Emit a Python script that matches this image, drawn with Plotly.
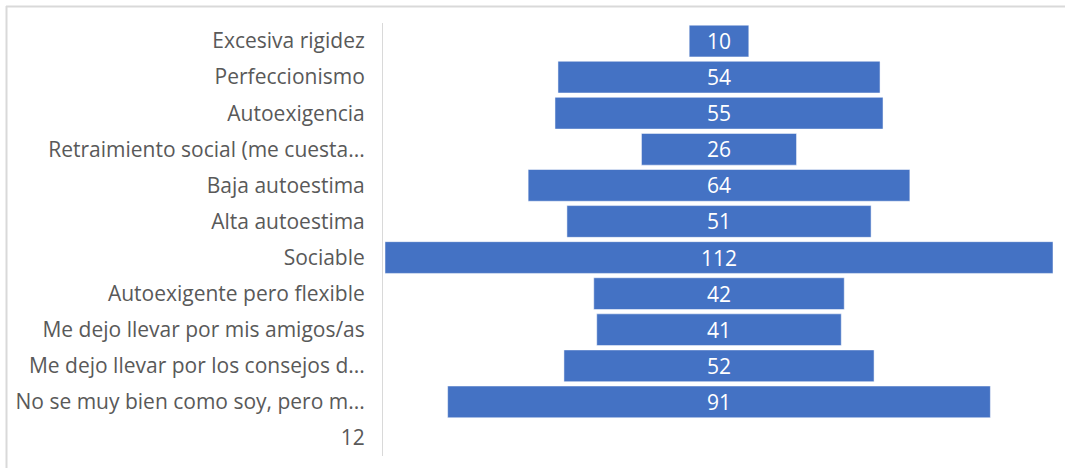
import plotly.graph_objects as go

# Categories (top to bottom) and counts
categorias = [
    "Excesiva rigidez",
    "Perfeccionismo",
    "Autoexigencia",
    "Retraimiento social (me cuesta...",
    "Baja autoestima",
    "Alta autoestima",
    "Sociable",
    "Autoexigente pero flexible",
    "Me dejo llevar por mis amigos/as",
    "Me dejo llevar por los consejos d...",
    "No se muy bien como soy, pero m...",
    "12",
]
valores = [10, 54, 55, 26, 64, 51, 112, 42, 41, 52, 91, None]

BAR_COLOR = "#4472C4"
AXIS_GRAY = "#D9D9D9"
TEXT_GRAY = "#595959"
FONT = "Open Sans, sans-serif"

W, H = 1065, 468
ML, MR, MT, MB = 383, 12, 23, 12

# centred bars: each bar starts at -v/2
bases = [(-v / 2 if v is not None else None) for v in valores]
textos = [(str(v) if v is not None else "") for v in valores]

fig = go.Figure(
    go.Bar(
        y=categorias,
        x=valores,
        base=bases,
        orientation="h",
        marker=dict(color=BAR_COLOR, line=dict(color="#FFFFFF", width=0.5)),
        text=textos,
        textposition="inside",
        insidetextanchor="middle",
        textangle=0,
        constraintext="none",
        textfont=dict(color="#FFFFFF", size=21, family=FONT),
        width=0.88,
        hoverinfo="skip",
    )
)

pw = W - ML - MR
ph = H - MT - MB
half = 56
left = -half - 2 * (2 * half) / (pw - 2)

# light frame lines along the top and left edges of the chart area
def px_to_paper_x(px):
    return (px - ML) / pw

def px_to_paper_y(py):
    return (H - MB - py) / ph

fig.add_shape(type="line", xref="paper", yref="paper",
              x0=px_to_paper_x(6), x1=px_to_paper_x(W), y0=px_to_paper_y(6.5), y1=px_to_paper_y(6.5),
              line=dict(color=AXIS_GRAY, width=2))
fig.add_shape(type="line", xref="paper", yref="paper",
              x0=px_to_paper_x(6.5), x1=px_to_paper_x(6.5), y0=px_to_paper_y(6), y1=px_to_paper_y(H),
              line=dict(color=AXIS_GRAY, width=2))

fig.update_layout(
    width=W,
    height=H,
    margin=dict(l=ML, r=MR, t=MT, b=MB),
    paper_bgcolor="#FFFFFF",
    plot_bgcolor="#FFFFFF",
    showlegend=False,
    bargap=0.12,
    uniformtext=dict(mode=False),
    xaxis=dict(range=[left, half], visible=False, fixedrange=True),
    yaxis=dict(
        categoryorder="array",
        categoryarray=categorias,
        autorange="reversed",
        showline=True,
        linecolor=AXIS_GRAY,
        linewidth=1,
        showgrid=False,
        zeroline=False,
        ticks="",
        ticklabelstandoff=13,
        tickfont=dict(color=TEXT_GRAY, size=21, family=FONT),
        fixedrange=True,
    ),
)

fig.write_html("out.html")
